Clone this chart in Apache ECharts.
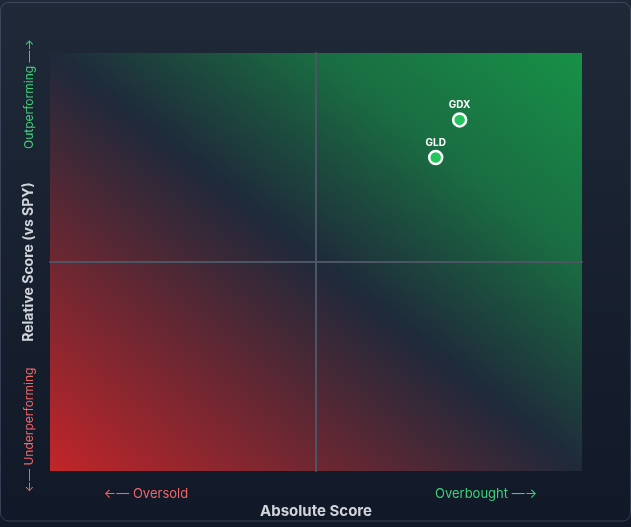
<!DOCTYPE html>
<html>
<head>
<meta charset="utf-8">
<script src="https://cdn.jsdelivr.net/npm/echarts@6/dist/echarts.min.js"></script>
<style>
html,body{margin:0;padding:0;background:#111827;}
#chart{width:631px;height:527px;}
</style>
</head>
<body>
<div id="chart"></div>
<script>
var tickers = ['GDX', 'GLD'];
var absoluteScores = [54, 45];
var relativeScores = [68, 50];
var axisMin = -100;
var axisMax = 100;

var chart = echarts.init(document.getElementById('chart'), null, {renderer: 'canvas'});
var font = 'Inter, "Noto Sans", sans-serif';
var points = tickers.map(function (t, i) { return {name: t, value: [absoluteScores[i], relativeScores[i]]}; });

chart.setOption({
  animation: false,
  backgroundColor: {
    type: 'linear', x: 0, y: 0, x2: 0, y2: 1,
    colorStops: [{offset: 0, color: '#1f2937'}, {offset: 1, color: '#111827'}]
  },
  grid: {
    left: 50, right: 49, top: 53, bottom: 56,
    show: true, borderWidth: 0,
    backgroundColor: {
      type: 'linear', x: 0.118, y: 1.118, x2: 0.882, y2: -0.118,
      colorStops: [
        {offset: 0, color: 'rgb(194,37,41)'},
        {offset: 0.5, color: 'rgb(31,41,58)'},
        {offset: 0.75, color: 'rgb(26,109,66)'},
        {offset: 1, color: 'rgb(23,145,71)'}
      ]
    }
  },
  xAxis: {
    type: 'value', min: axisMin, max: axisMax,
    axisLine: {show: true, onZero: true, lineStyle: {color: '#4b5563', width: 2}},
    axisTick: {show: false}, axisLabel: {show: false}, splitLine: {show: false}
  },
  yAxis: {
    type: 'value', min: axisMin, max: axisMax,
    axisLine: {show: true, onZero: true, lineStyle: {color: '#4b5563', width: 2}},
    axisTick: {show: false}, axisLabel: {show: false}, splitLine: {show: false}
  },
  series: [{
    type: 'scatter',
    data: points,
    symbol: 'circle',
    symbolSize: 13,
    itemStyle: {color: '#22c55e', borderColor: '#ffffff', borderWidth: 2.5, opacity: 1},
    label: {
      show: true, position: 'top', distance: 2,
      formatter: '{b}', color: '#ffffff', fontSize: 10, fontWeight: 'bold', fontFamily: font
    }
  }],
  graphic: [
    {type: 'rect', silent: true, shape: {x: 0.5, y: 2.5, width: 630, height: 518.5, r: 8},
     style: {fill: 'none', stroke: 'rgba(100,110,140,0.45)', lineWidth: 1}},
    {type: 'text', x: 316, y: 511,
     style: {text: 'Absolute Score', fill: '#d1d5db', font: 'bold 15px ' + font, textAlign: 'center', textVerticalAlign: 'middle'}},
    {type: 'text', x: 29, y: 262, rotation: Math.PI / 2,
     style: {text: 'Relative Score (vs SPY)', fill: '#d1d5db', font: 'bold 14px ' + font, textAlign: 'center', textVerticalAlign: 'middle'}},
    {type: 'text', x: 146, y: 494,
     style: {text: '\u2190\u2014 Oversold', fill: '#f06767', font: '13px ' + font, textAlign: 'center', textVerticalAlign: 'middle'}},
    {type: 'text', x: 486, y: 494,
     style: {text: 'Overbought \u2014\u2192', fill: '#3fd07a', font: '13px ' + font, textAlign: 'center', textVerticalAlign: 'middle'}},
    {type: 'text', x: 29, y: 94, rotation: Math.PI / 2,
     style: {text: 'Outperforming \u2014\u2192', fill: '#3fd07a', font: '12px ' + font, textAlign: 'center', textVerticalAlign: 'middle'}},
    {type: 'text', x: 29, y: 430, rotation: Math.PI / 2,
     style: {text: '\u2190\u2014 Underperforming', fill: '#f06767', font: '12px ' + font, textAlign: 'center', textVerticalAlign: 'middle'}}
  ]
});
</script>
</body>
</html>
